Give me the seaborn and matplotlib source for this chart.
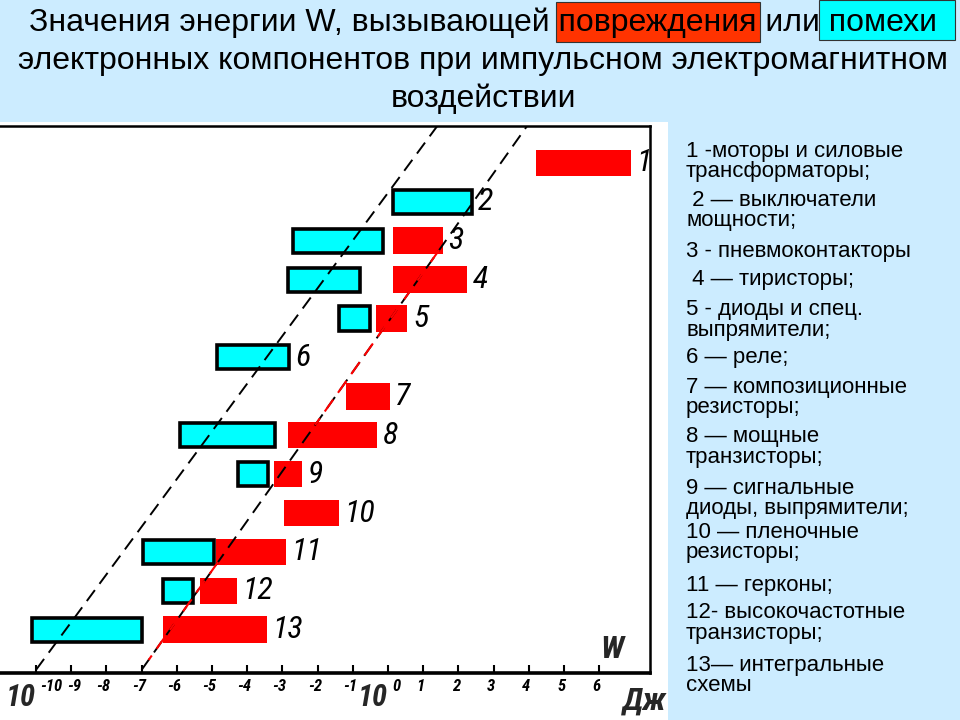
import numpy as np
import pandas as pd
import matplotlib
matplotlib.use("Agg")
import matplotlib.pyplot as plt
import seaborn as sns
from matplotlib.patches import Rectangle
import matplotlib.transforms as mtransforms
import logging
logging.getLogger("matplotlib.font_manager").setLevel(logging.ERROR)

# ---------------- data (exponents of W, Дж) ----------------
component_ids = list(range(1, 14))
damage_lo = [4.2, np.nan, 0.15, 0.15, -0.35, np.nan, -1.2, -2.85, -3.25, -2.95, -4.9, -5.35, -6.4]
damage_hi = [6.9, np.nan, 1.55, 2.25, 0.55, np.nan, 0.05, -0.3, -2.45, -1.4, -2.9, -4.3, -3.45]
interf_lo = [np.nan, 0.15, -2.7, -2.85, -1.4, -4.85, np.nan, -5.9, -4.25, np.nan, -6.95, -6.4, -10.1]
interf_hi = [np.nan, 2.4, -0.15, -0.8, -0.5, -2.8, np.nan, -3.2, -3.4, np.nan, -4.95, -5.55, -7.0]
exp_ticks = list(range(-10, 7))
guide_interf_exp = [-10.0, 1.4]
guide_damage_exp = [-7.0, 3.95]

title_lines = ["Значения энергии W, вызывающей повреждения или помехи",
               "электронных компонентов при импульсном электромагнитном",
               "воздействии"]
legend_items = ["1 -моторы и силовые\nтрансформаторы;",
                " 2 — выключатели\nмощности;",
                "3 - пневмоконтакторы",
                " 4 — тиристоры;",
                "5 - диоды и спец.\nвыпрямители;",
                "6 — реле;",
                "7 — композиционные\nрезисторы;",
                "8 — мощные\nтранзисторы;",
                "9 — сигнальные\nдиоды, выпрямители;",
                "10 — пленочные\nрезисторы;",
                "11 — герконы;",
                "12- высокочастотные\nтранзисторы;",
                "13— интегральные\nсхемы"]

# ---------------- styling ----------------
sns.set_theme(style="white")
plt.rcParams['font.family'] = ['Liberation Sans', 'DejaVu Sans']
HAND = ["Roboto Condensed", "PT Sans Narrow", "Liberation Sans", "DejaVu Sans"]

BG = "#CCECFF"
RED = "#FF0000"
CYAN = "#00FFFF"

W, H = 960, 720
fig = plt.figure(figsize=(9.6, 7.2), dpi=100, facecolor=BG)

def fx(px):
    return px / W

def fy(py):
    return 1 - py / H

fig.patches.append(Rectangle((0, 0), fx(668), fy(122), transform=fig.transFigure,
                             facecolor="white", edgecolor="none", zorder=0))
fig.patches.append(Rectangle((fx(556), fy(42)), fx(760) - fx(556), fy(2) - fy(42),
                             transform=fig.transFigure, facecolor="#FF3300",
                             edgecolor="#333333", lw=0.8, zorder=1))
fig.patches.append(Rectangle((fx(819), fy(40)), fx(955) - fx(819), fy(0) - fy(40),
                             transform=fig.transFigure, facecolor=CYAN,
                             edgecolor="#333333", lw=0.8, zorder=1))

for line, py in zip(title_lines, [23, 61, 99]):
    fig.text(fx(483), fy(py), line, ha="center", va="center", fontsize=23,
             color="black", zorder=3)

# ---------------- axes ----------------
ax = fig.add_axes([0, fy(673), fx(650), fy(126) - fy(673)])
ax.set_zorder(2)
ax.set_facecolor("none")
ax.set_xlim((0 - 388) / 35.2, (650 - 388) / 35.2)
row_of = lambda py: (py - 124) / 38.9
y_bottom, y_top = row_of(673), row_of(126)
ax.set_ylim(y_bottom, y_top)

df = pd.DataFrame({"id": component_ids, "d_lo": damage_lo, "d_hi": damage_hi,
                   "i_lo": interf_lo, "i_hi": interf_hi})

# guide lines
g1 = pd.DataFrame({"x": guide_interf_exp, "y": [y_bottom - 0.08, y_top]})
g2 = pd.DataFrame({"x": guide_damage_exp, "y": [y_bottom - 0.08, y_top]})
dash = (0, (7, 4))
sns.lineplot(data=g1, x="x", y="y", ax=ax, color="black", lw=1.4, sort=False,
             linestyle=dash, zorder=4)
sns.lineplot(data=g2, x="x", y="y", ax=ax, color="black", lw=1.4, sort=False,
             linestyle=dash, zorder=4)

def pt_on(g, y):
    (x0, x1), (y0, y1) = g["x"].values, g["y"].values
    return x0 + (y - y0) * (x1 - x0) / (y1 - y0)

for ya, yb in [(row_of(250), row_of(425)), (row_of(562), row_of(660))]:
    ax.plot([pt_on(g2, ya), pt_on(g2, yb)], [ya, yb], color=RED, lw=1.5,
            linestyle=dash, zorder=5)

# bars
m = df["d_lo"].notna()
ax.barh(df.loc[m, "id"], df.loc[m, "d_hi"] - df.loc[m, "d_lo"], left=df.loc[m, "d_lo"],
        height=0.68, color=RED, edgecolor="none", zorder=3)
m = df["i_lo"].notna()
ax.barh(df.loc[m, "id"], df.loc[m, "i_hi"] - df.loc[m, "i_lo"], left=df.loc[m, "i_lo"],
        height=0.62, color=CYAN, edgecolor="black", lw=2.6, zorder=3)

# number labels
for _, r in df.iterrows():
    end = np.nanmax([r["d_hi"], r["i_hi"]])
    ax.annotate(str(int(r["id"])), (end, r["id"]), xytext=(4, 0), textcoords="offset points",
                ha="left", va="center", fontsize=23, style="italic",
                family=HAND, color="black", zorder=6)

# spines and ticks
ax.spines["left"].set_visible(False)
for s in ["top", "right", "bottom"]:
    ax.spines[s].set_visible(True)
    ax.spines[s].set_color("black")
ax.spines["top"].set_linewidth(1.8)
ax.spines["right"].set_linewidth(1.8)
ax.spines["bottom"].set_linewidth(2.6)
ax.set_yticks([])
ax.set_xticks(exp_ticks)
ax.set_xticklabels([])
ax.tick_params(axis="x", direction="in", length=6, width=1.5, color="black", bottom=True)
ax.set_xlabel("")
ax.set_ylabel("")

trans = mtransforms.blended_transform_factory(ax.transData, ax.transAxes)
lab_kw = dict(fontsize=12, style="italic", weight="bold", family=HAND,
              color="black", va="center", annotation_clip=False)
for e in exp_ticks:
    if e in (-10, 0):
        ax.annotate("10", (e, 0), xycoords=trans, xytext=(-0.5, -18), textcoords="offset points",
                    ha="right", fontsize=22, style="italic", weight="bold",
                    family=HAND, va="center", annotation_clip=False)
        ax.annotate(str(e), (e, 0), xycoords=trans, xytext=(3, -10), textcoords="offset points",
                    ha="left", **lab_kw)
    else:
        dx = 2 if e == -9 else -2
        ax.annotate(str(e), (e, 0), xycoords=trans, xytext=(dx, -10), textcoords="offset points",
                    ha="center", **lab_kw)

ax.text((612 - 388) / 35.2, row_of(650), "W", ha="center", va="center",
        fontsize=23, style="italic", weight="bold", family=HAND, zorder=6)
fig.text(fx(645), fy(701), "Дж", ha="center", va="center", fontsize=23, style="italic",
         weight="bold", family=HAND, zorder=5)

# legend text at right
item_start = [151, 200, 252, 280, 310, 358, 387, 437, 488, 532, 585, 613, 665]
for item, py in zip(legend_items, item_start):
    for k, ln in enumerate(item.split("\n")):
        fig.text(fx(686), fy(py + 20.5 * k), ln, ha="left", va="center", fontsize=16,
                 color="black", zorder=5)

fig.savefig("out.png", dpi=100, facecolor=BG)
